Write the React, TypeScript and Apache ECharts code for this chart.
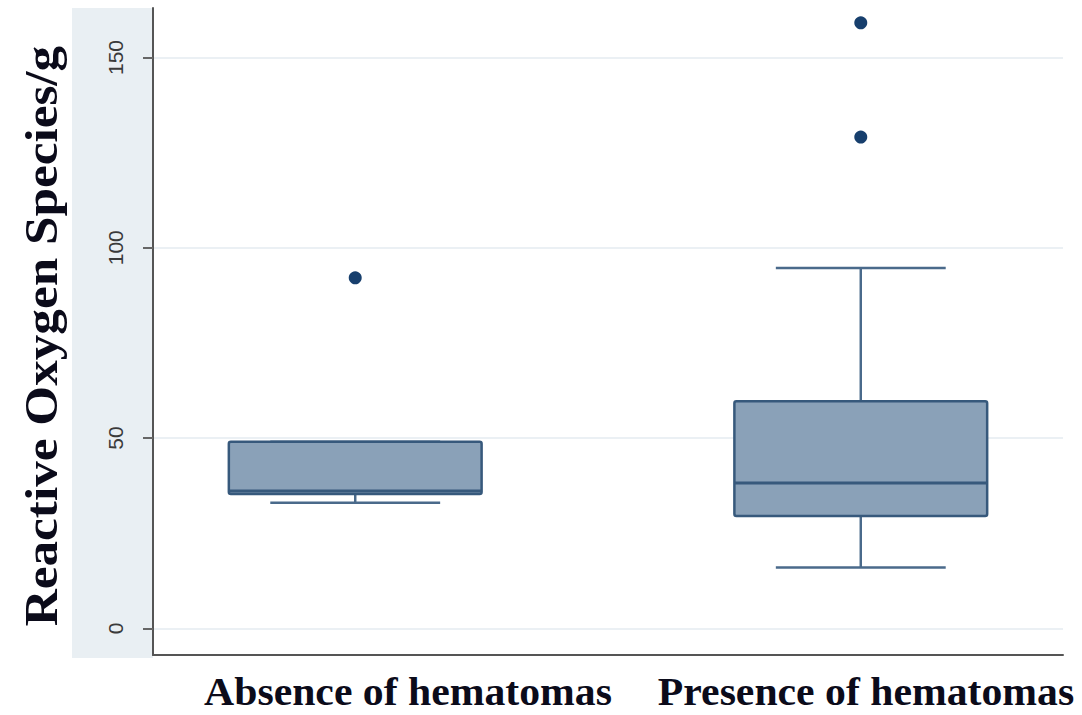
import React, { useEffect, useRef } from "react";
import * as echarts from "echarts";

// ---- Data ----
const categories = ["Absence of hematomas", "Presence of hematomas"];
const whiskerLow = [33, 16];
const quartile1 = [35.3, 29.5];
const medians = [36.1, 38.2];
const quartile3 = [49, 59.7];
const whiskerHigh = [49, 94.7];
// outliers: [category index, value]
const outliers: [number, number][] = [
  [0, 92.1],
  [1, 159.1],
  [1, 129.1],
];
const yTicks = [0, 50, 100, 150];

// ---- Styles ----
const BOX_W = 0.5; // in x-axis units
const CAP_W = 0.336;
const BOX_FILL = "#8aa1b8";
const BOX_BORDER = "#37597c";
const WHISKER = "#4a6a8b";
const DOT = "#173f6d";
const SERIF = '"Liberation Serif", "Times New Roman", serif';

export default function App() {
  const ref = useRef<HTMLDivElement>(null);

  useEffect(() => {
    if (!ref.current) return;
    const chart = echarts.init(ref.current, undefined, { renderer: "svg" });

    const boxData = categories.map((_, i) => [
      i + 1,
      whiskerLow[i],
      quartile1[i],
      medians[i],
      quartile3[i],
      whiskerHigh[i],
    ]);
    const outlierData = outliers.map(([ci, v]) => [ci + 1, v]);

    const option: any = {
      animation: false,
      backgroundColor: "#ffffff",
      grid: { left: 153, right: 19, top: 8, height: 647, containLabel: false },
      xAxis: {
        type: "value",
        min: 0.6,
        max: 2.4,
        axisLine: { show: true, onZero: false, lineStyle: { color: "#555", width: 2 } },
        axisTick: { show: false },
        axisLabel: { show: false },
        splitLine: { show: false },
      },
      yAxis: {
        type: "value",
        min: -7,
        max: 163,
        axisLine: { show: true, onZero: false, lineStyle: { color: "#555", width: 2 } },
        axisTick: {
          show: true,
          length: 10,
          customValues: yTicks,
          lineStyle: { color: "#666", width: 2 },
        },
        axisLabel: {
          show: true,
          customValues: yTicks,
          rotate: 90,
          margin: 27,
          fontSize: 21,
          fontFamily: '"Liberation Sans", Arial, sans-serif',
          color: "#3a3a3a",
        },
        splitLine: { show: true, lineStyle: { color: "#e4ebf0", width: 1.5 } },
      },
      graphic: [
        {
          type: "rect",
          z: -10,
          silent: true,
          shape: { x: 72, y: 8, width: 81, height: 650 },
          style: { fill: "#e9eff3" },
        },
        {
          type: "text",
          x: 41,
          y: 336,
          rotation: Math.PI / 2,
          scaleX: 1.09,
          style: {
            text: "Reactive Oxygen Species/g",
            font: `bold 47px ${SERIF}`,
            fill: "#0b0b1a",
            textAlign: "center",
            textVerticalAlign: "middle",
            align: "center",
            verticalAlign: "middle",
          },
        },
        {
          type: "text",
          x: 408,
          y: 692,
          scaleX: 1.07,
          style: {
            text: categories[0],
            font: `bold 39px ${SERIF}`,
            fill: "#0b0b1a",
            textAlign: "center",
            textVerticalAlign: "middle",
            align: "center",
            verticalAlign: "middle",
          },
        },
        {
          type: "text",
          x: 866,
          y: 692,
          scaleX: 1.07,
          style: {
            text: categories[1],
            font: `bold 39px ${SERIF}`,
            fill: "#0b0b1a",
            textAlign: "center",
            textVerticalAlign: "middle",
            align: "center",
            verticalAlign: "middle",
          },
        },
      ],
      series: [
        {
          type: "custom",
          name: "box",
          data: boxData,
          encode: { x: 0, y: [1, 2, 3, 4, 5] },
          renderItem: (params: any, api: any) => {
            const x = api.value(0);
            const lo = api.value(1);
            const q1 = api.value(2);
            const med = api.value(3);
            const q3 = api.value(4);
            const hi = api.value(5);
            const tl = api.coord([x - BOX_W / 2, q3]);
            const br = api.coord([x + BOX_W / 2, q1]);
            const mL = api.coord([x - BOX_W / 2, med]);
            const mR = api.coord([x + BOX_W / 2, med]);
            const cLo = api.coord([x, lo]);
            const cHi = api.coord([x, hi]);
            const cQ1 = api.coord([x, q1]);
            const cQ3 = api.coord([x, q3]);
            const capLoL = api.coord([x - CAP_W / 2, lo]);
            const capLoR = api.coord([x + CAP_W / 2, lo]);
            const capHiL = api.coord([x - CAP_W / 2, hi]);
            const capHiR = api.coord([x + CAP_W / 2, hi]);
            const wStyle = { stroke: WHISKER, lineWidth: 2.5 };
            return {
              type: "group",
              children: [
                { type: "line", shape: { x1: cQ1[0], y1: cQ1[1], x2: cLo[0], y2: cLo[1] }, style: wStyle },
                { type: "line", shape: { x1: cQ3[0], y1: cQ3[1], x2: cHi[0], y2: cHi[1] }, style: wStyle },
                { type: "line", shape: { x1: capLoL[0], y1: capLoL[1], x2: capLoR[0], y2: capLoR[1] }, style: wStyle },
                { type: "line", shape: { x1: capHiL[0], y1: capHiL[1], x2: capHiR[0], y2: capHiR[1] }, style: wStyle },
                {
                  type: "rect",
                  shape: { x: tl[0], y: tl[1], width: br[0] - tl[0], height: br[1] - tl[1], r: 2 },
                  style: { fill: BOX_FILL, stroke: BOX_BORDER, lineWidth: 2.5 },
                },
                {
                  type: "line",
                  shape: { x1: mL[0], y1: mL[1], x2: mR[0], y2: mR[1] },
                  style: { stroke: BOX_BORDER, lineWidth: 3 },
                },
              ],
            };
          },
          z: 3,
        },
        {
          type: "scatter",
          name: "outliers",
          data: outlierData,
          symbol: "circle",
          symbolSize: 13,
          itemStyle: { color: DOT, opacity: 1 },
          z: 4,
        },
      ],
    };

    chart.setOption(option);
    return () => chart.dispose();
  }, []);

  return (
    <div
      ref={ref}
      style={{ position: "fixed", left: 0, top: 0, width: 1082, height: 715 }}
    />
  );
}
